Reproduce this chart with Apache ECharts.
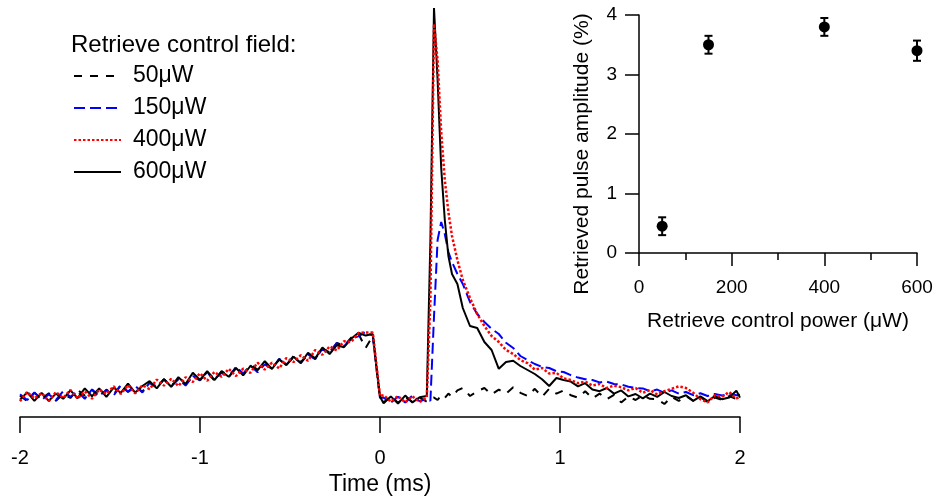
<!DOCTYPE html>
<html><head><meta charset="utf-8">
<script src="https://cdn.jsdelivr.net/npm/echarts@6/dist/echarts.min.js"></script>
<style>html,body{margin:0;padding:0;background:#fff}#c{width:933px;height:497px}</style>
</head><body><div id="c"></div>
<script>
// Time axis (ms)
const timeMs = [
-2.00,-1.96,-1.92,-1.88,-1.84,-1.80,-1.76,-1.72,-1.68,-1.64,
-1.60,-1.56,-1.52,-1.48,-1.44,-1.40,-1.36,-1.32,-1.28,-1.24,
-1.20,-1.16,-1.12,-1.08,-1.04,-1.00,-0.96,-0.92,-0.88,-0.84,
-0.80,-0.76,-0.72,-0.68,-0.64,-0.60,-0.56,-0.52,-0.48,-0.44,
-0.40,-0.36,-0.32,-0.28,-0.24,-0.20,-0.16,-0.12,-0.08,-0.04,
-0.02,0.00,0.02,0.06,0.10,0.14,0.18,0.22,0.26,0.28,
0.30,0.32,0.34,0.36,0.38,0.40,0.43,0.46,0.50,0.54,
0.58,0.62,0.66,0.70,0.74,0.78,0.82,0.86,0.90,0.94,
0.98,1.02,1.06,1.10,1.14,1.18,1.22,1.26,1.30,1.34,
1.38,1.42,1.46,1.50,1.54,1.58,1.62,1.66,1.70,1.74,
1.78,1.82,1.86,1.90,1.94,1.98,2.00];

// Signal (arb. units) for each retrieve control power
const trace50 = [
1.1,-0.3,1.8,0.3,1.7,-0.2,1.5,0.5,2.55,1.1,
2.55,0.7,2.6,1.4,3.7,2.0,3.35,2.1,4.3,3.2,
5.2,3.5,5.3,3.9,5.8,5.0,6.9,4.9,7.2,6.1,
7.9,6.35,8.9,7.55,9.1,7.85,10.1,8.8,11.0,9.5,
11.3,10.3,12.8,11.9,14.3,13.5,15.6,16.6,13.0,16.0,
8.0,0.5,-0.6,1.0,-0.7,0.8,-0.5,0.6,-0.4,0.4,
0.6,0.0,1.2,0.5,1.6,0.8,2.4,3.0,1.0,2.2,
3.0,1.4,2.6,1.6,3.2,1.8,1.0,2.8,0.8,2.8,
1.6,2.4,1.2,0.6,2.2,0.4,1.6,0.2,1.3,-0.6,
0.9,0.0,1.2,0.3,0.2,-1.0,0.8,-0.2,1.0,-0.2,
0.8,-0.6,0.6,0.0,1.0,0.2,0.5];

const trace150 = [
1.4,0.0,1.9,0.0,1.4,0.0,2.2,0.8,2.15,0.3,
2.65,1.1,2.4,1.1,3.7,2.1,3.55,1.9,4.3,3.4,
5.1,3.4,5.2,3.6,6.0,4.9,7.0,5.3,6.8,5.7,
8.3,6.65,8.6,6.95,8.9,7.85,10.3,8.9,10.7,9.3,
11.4,10.2,12.8,12.0,14.2,13.4,15.4,15.9,17.0,16.1,
8.0,0.5,0.6,-0.7,0.8,-0.6,1.1,-0.3,0.4,-0.2,
20.8,40.0,44.5,41.5,37.0,34.5,31.5,29.0,24.5,21.5,
19.5,17.8,16.5,14.3,13.0,11.0,10.0,9.0,8.3,8.0,
7.2,7.0,6.2,5.6,5.2,5.0,4.4,4.6,4.0,3.9,
3.3,3.0,2.9,2.2,2.6,1.8,2.4,1.6,2.0,1.2,
1.7,1.0,1.5,1.1,1.5,1.2,1.3];

const trace400 = [
-0.3,2.0,0.4,1.7,-0.3,2.0,0.5,2.5,0.35,2.2,
0.35,2.6,1.5,3.4,1.5,3.7,1.65,3.7,2.7,5.1,
3.6,5.3,3.5,5.7,4.5,6.7,4.8,7.0,5.8,7.8,
6.0,7.85,6.8,9.35,7.6,9.35,7.9,10.5,9.5,11.2,
9.8,12.5,11.3,13.4,12.4,14.7,14.5,16.7,16.9,16.9,
9.0,1.0,1.2,-0.4,1.0,-0.6,0.9,-0.5,0.6,25.0,
94.0,85.0,67.0,55.0,47.0,41.0,35.0,30.0,25.5,21.5,
18.5,16.0,14.5,12.5,11.5,10.0,9.2,7.6,8.0,6.6,
6.8,5.4,5.0,4.2,4.6,3.6,4.0,3.0,3.6,3.2,
2.4,3.0,1.8,2.5,1.4,2.2,2.8,3.4,3.0,1.8,
0.2,-0.6,1.2,0.8,2.0,0.4,0.8];

const trace600 = [
0.1,1.9,-0.2,1.8,-0.2,1.6,0.3,2.4,0.45,2.9,
0.95,2.9,0.8,3.1,1.8,4.1,1.85,3.5,4.7,2.9,
5.2,3.3,5.7,4.0,6.8,5.0,7.2,5.0,7.1,5.8,
8.0,6.15,8.5,7.45,9.7,7.75,10.2,8.7,10.8,9.2,
11.8,10.4,13.1,11.5,13.7,13.2,15.3,16.8,16.1,16.5,
8.5,0.8,-0.8,0.9,-0.9,1.1,-0.6,0.7,1.0,40.0,
98.0,80.0,58.0,45.0,36.0,31.5,29.0,23.0,18.5,18.0,
14.5,12.5,7.8,9.5,9.8,8.5,7.5,6.5,5.2,3.5,
5.5,5.0,4.6,3.4,4.2,2.6,2.2,3.0,1.6,2.4,
0.9,1.5,0.4,1.6,0.8,2.0,1.0,0.5,1.2,-0.2,
0.9,-0.3,1.0,0.2,0.6,2.3,0.6];

const seriesNames = ['50μW','150μW','400μW','600μW'];
const mainTickLabels = ['-2','-1','0','1','2'];

// Inset: retrieved pulse amplitude vs retrieve control power
const powerUW = [50,150,400,600];
const amplitudePct = [0.45,3.5,3.8,3.4];
const amplitudeErr = [0.15,0.15,0.15,0.17];

const FONT = 'Liberation Sans, Arial, sans-serif';
const pairs = arr => timeMs.map((t, i) => [t, arr[i]]);

const chart = echarts.init(document.getElementById('c'), null, {renderer: 'canvas'});
const axisLineStyle = {color: '#000', width: 1.5};

const option = {
  animation: false,
  backgroundColor: '#fff',
  title: {
    text: 'Retrieve control field:',
    left: 71, top: 33, padding: 0,
    textStyle: {fontFamily: FONT, fontSize: 24, fontWeight: 'normal', color: '#000'}
  },
  legend: {
    data: seriesNames,
    orient: 'vertical',
    left: 73, top: 64,
    itemWidth: 47, itemHeight: 14, itemGap: 8,
    padding: 0,
    itemStyle: {opacity: 0},
    textStyle: {fontFamily: FONT, fontSize: 23, color: '#000', lineHeight: 24, padding: [0, 0, 0, 7]}
  },
  grid: [
    {left: 20, right: 193, top: 0, bottom: 80, outerBoundsMode: 'none'},
    {left: 639, right: 16, top: 15, bottom: 244, outerBoundsMode: 'none'}
  ],
  xAxis: [
    {
      gridIndex: 0, type: 'value', min: -2, max: 2, interval: 1,
      axisLine: {show: true, onZero: false, lineStyle: axisLineStyle},
      axisTick: {show: true, length: 16, lineStyle: axisLineStyle},
      axisLabel: {margin: 31, fontFamily: FONT, fontSize: 20, color: '#000',
        formatter: v => mainTickLabels[Math.round(v) + 2]},
      splitLine: {show: false},
      name: 'Time (ms)', nameLocation: 'middle', nameGap: 52,
      nameTextStyle: {fontFamily: FONT, fontSize: 23, color: '#000'}
    },
    {
      gridIndex: 1, type: 'value', min: 0, max: 600, interval: 200,
      axisLine: {show: true, onZero: false, lineStyle: axisLineStyle},
      axisTick: {show: true, length: 13, lineStyle: axisLineStyle},
      minorTick: {show: true, splitNumber: 2, length: 7, lineStyle: axisLineStyle},
      axisLabel: {margin: 25, fontFamily: FONT, fontSize: 19, color: '#000'},
      splitLine: {show: false},
      name: 'Retrieve control power (μW)', nameLocation: 'middle', nameGap: 58,
      nameTextStyle: {fontFamily: FONT, fontSize: 21, color: '#000'}
    }
  ],
  yAxis: [
    {gridIndex: 0, type: 'value', min: -4.25, max: 100, show: false},
    {
      gridIndex: 1, type: 'value', min: 0, max: 4, interval: 1,
      axisLine: {show: true, onZero: false, lineStyle: axisLineStyle},
      axisTick: {show: true, length: 14, lineStyle: axisLineStyle},
      axisLabel: {margin: 22, fontFamily: FONT, fontSize: 19, color: '#000'},
      splitLine: {show: false}
    }
  ],
  graphic: [{
    type: 'text', x: 582, y: 154, rotation: Math.PI / 2,
    style: {text: 'Retrieved pulse amplitude (%)', font: '21px ' + FONT, fill: '#000',
      align: 'center', verticalAlign: 'middle'}
  }],
  series: [
    {name: seriesNames[0], type: 'line', xAxisIndex: 0, yAxisIndex: 0, symbol: 'none',
      data: pairs(trace50), lineStyle: {color: '#000', width: 2, type: [8, 8]}, itemStyle: {color: '#000'}},
    {name: seriesNames[1], type: 'line', xAxisIndex: 0, yAxisIndex: 0, symbol: 'none',
      data: pairs(trace150), lineStyle: {color: '#0000ff', width: 2, type: [11, 5]}, itemStyle: {color: '#0000ff'}},
    {name: seriesNames[3], type: 'line', xAxisIndex: 0, yAxisIndex: 0, symbol: 'none',
      data: pairs(trace600), lineStyle: {color: '#000', width: 2}, itemStyle: {color: '#000'}},
    {name: seriesNames[2], type: 'line', xAxisIndex: 0, yAxisIndex: 0, symbol: 'none',
      data: pairs(trace400), lineStyle: {color: '#ff0000', width: 2.5, type: [2.5, 2]}, itemStyle: {color: '#ff0000'}},
    {
      type: 'custom', xAxisIndex: 1, yAxisIndex: 1,
      data: powerUW.map((p, i) => [p, amplitudePct[i] - amplitudeErr[i], amplitudePct[i] + amplitudeErr[i]]),
      renderItem: (params, api) => {
        const lo = api.coord([api.value(0), api.value(1)]);
        const hi = api.coord([api.value(0), api.value(2)]);
        const hw = 4;
        const st = {stroke: '#000', lineWidth: 2};
        return {type: 'group', children: [
          {type: 'line', shape: {x1: lo[0], y1: lo[1], x2: hi[0], y2: hi[1]}, style: st},
          {type: 'line', shape: {x1: lo[0] - hw, y1: lo[1], x2: lo[0] + hw, y2: lo[1]}, style: st},
          {type: 'line', shape: {x1: hi[0] - hw, y1: hi[1], x2: hi[0] + hw, y2: hi[1]}, style: st}
        ]};
      },
      z: 3
    },
    {
      type: 'scatter', xAxisIndex: 1, yAxisIndex: 1, symbol: 'circle', symbolSize: 11,
      data: powerUW.map((p, i) => [p, amplitudePct[i]]),
      itemStyle: {color: '#000', opacity: 1}, z: 4
    }
  ]
};
chart.setOption(option);
</script>
</body></html>
